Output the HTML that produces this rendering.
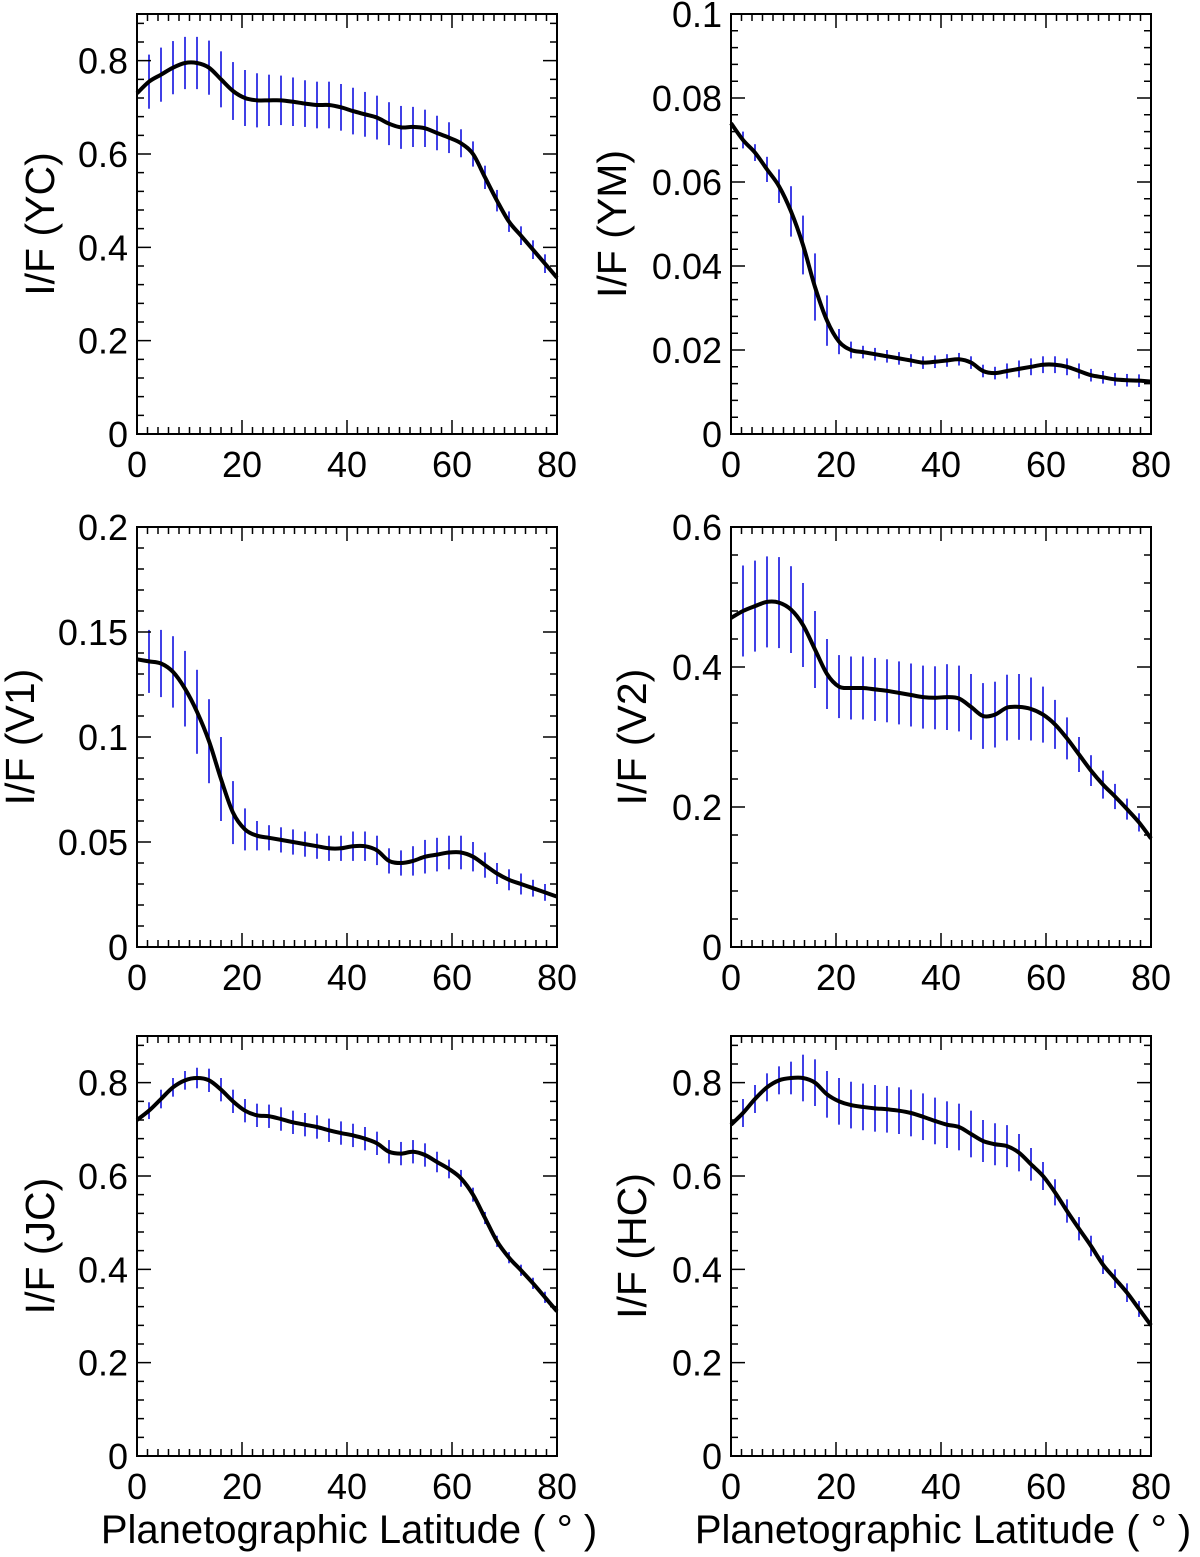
<!DOCTYPE html>
<html><head><meta charset="utf-8"><style>
body{margin:0;background:#fff}
svg{display:block;font-family:"Liberation Sans",sans-serif}
</style></head><body>
<svg id="fig" width="1200" height="1557" viewBox="0 0 1200 1557" xmlns="http://www.w3.org/2000/svg"></svg>
<script>
const NS="http://www.w3.org/2000/svg";
const nPts=36;
const lats=[];for(let i=0;i<nPts;i++)lats.push(i*80/35);
const ycVals=[0.73,0.755,0.77,0.785,0.795,0.795,0.785,0.76,0.735,0.72,0.715,0.715,0.715,0.712,0.708,0.705,0.705,0.70,0.692,0.685,0.678,0.665,0.657,0.658,0.655,0.645,0.635,0.623,0.60,0.55,0.50,0.455,0.425,0.395,0.365,0.335];
const ycErr=[0.06,0.058,0.058,0.057,0.056,0.056,0.058,0.06,0.062,0.06,0.058,0.055,0.053,0.052,0.05,0.05,0.05,0.05,0.05,0.048,0.047,0.046,0.046,0.043,0.04,0.037,0.033,0.03,0.027,0.025,0.023,0.022,0.02,0.02,0.02,0.02];
const ymVals=[0.074,0.070,0.067,0.063,0.059,0.053,0.045,0.035,0.027,0.022,0.020,0.0195,0.019,0.0185,0.018,0.0175,0.017,0.0172,0.0175,0.0178,0.017,0.015,0.0145,0.015,0.0155,0.016,0.0165,0.0165,0.016,0.015,0.014,0.0135,0.013,0.0128,0.0127,0.0125];
const ymErr=[0.002,0.002,0.002,0.003,0.004,0.006,0.007,0.008,0.006,0.003,0.002,0.0015,0.0015,0.0015,0.0015,0.0015,0.0015,0.0015,0.0015,0.0015,0.0015,0.0015,0.0015,0.0018,0.002,0.002,0.002,0.002,0.002,0.0018,0.0015,0.0015,0.0015,0.0015,0.0015,0.0015];
const v1Vals=[0.137,0.136,0.135,0.131,0.123,0.112,0.098,0.08,0.064,0.056,0.053,0.052,0.051,0.050,0.049,0.048,0.047,0.047,0.048,0.048,0.046,0.041,0.040,0.041,0.043,0.044,0.045,0.045,0.043,0.039,0.035,0.032,0.030,0.028,0.026,0.024];
const v1Err=[0.014,0.015,0.016,0.017,0.018,0.02,0.02,0.02,0.015,0.01,0.007,0.006,0.006,0.006,0.006,0.006,0.006,0.006,0.007,0.007,0.007,0.006,0.006,0.007,0.008,0.008,0.008,0.008,0.007,0.006,0.005,0.005,0.005,0.004,0.004,0.004];
const v2Vals=[0.47,0.48,0.487,0.493,0.492,0.482,0.46,0.425,0.39,0.372,0.37,0.37,0.368,0.366,0.363,0.36,0.357,0.356,0.357,0.355,0.343,0.33,0.332,0.342,0.343,0.34,0.332,0.318,0.298,0.275,0.252,0.232,0.215,0.197,0.178,0.155];
const v2Err=[0.06,0.065,0.065,0.065,0.065,0.062,0.06,0.055,0.05,0.045,0.045,0.045,0.045,0.045,0.045,0.045,0.045,0.045,0.047,0.047,0.047,0.047,0.047,0.047,0.047,0.045,0.04,0.035,0.03,0.025,0.022,0.02,0.018,0.015,0.013,0.01];
const jcVals=[0.72,0.74,0.765,0.79,0.805,0.81,0.805,0.785,0.76,0.74,0.73,0.728,0.722,0.715,0.71,0.705,0.698,0.692,0.687,0.68,0.67,0.652,0.648,0.652,0.645,0.63,0.615,0.595,0.56,0.51,0.46,0.425,0.398,0.37,0.34,0.31];
const jcErr=[0.015,0.018,0.02,0.02,0.02,0.022,0.025,0.025,0.025,0.025,0.025,0.025,0.025,0.025,0.025,0.025,0.025,0.025,0.025,0.025,0.025,0.025,0.025,0.025,0.025,0.022,0.02,0.018,0.015,0.013,0.012,0.012,0.012,0.012,0.012,0.012];
const hcVals=[0.71,0.735,0.765,0.79,0.805,0.81,0.81,0.80,0.775,0.76,0.752,0.748,0.745,0.743,0.74,0.735,0.727,0.718,0.71,0.705,0.69,0.675,0.668,0.664,0.65,0.625,0.60,0.565,0.525,0.487,0.45,0.41,0.38,0.35,0.315,0.28];
const hcErr=[0.03,0.03,0.03,0.03,0.03,0.035,0.05,0.05,0.05,0.05,0.05,0.05,0.05,0.05,0.05,0.05,0.05,0.05,0.05,0.05,0.05,0.045,0.045,0.045,0.04,0.035,0.03,0.028,0.025,0.025,0.022,0.02,0.02,0.02,0.017,0.015];
const xTickLabels=["0","20","40","60","80"];

const panels=[
 {name:"yc",title:"I/F (YC)",x0:137,y0:14,ymax:0.9,major:0.2,minor:0.04,labels:["0","0.2","0.4","0.6","0.8"],vals:ycVals,err:ycErr,tx:40},
 {name:"ym",title:"I/F (YM)",x0:731,y0:14,ymax:0.1,major:0.02,minor:0.004,labels:["0","0.02","0.04","0.06","0.08","0.1"],vals:ymVals,err:ymErr,tx:612},
 {name:"v1",title:"I/F (V1)",x0:137,y0:527,ymax:0.2,major:0.05,minor:0.01,labels:["0","0.05","0.1","0.15","0.2"],vals:v1Vals,err:v1Err,tx:20},
 {name:"v2",title:"I/F (V2)",x0:731,y0:527,ymax:0.6,major:0.2,minor:0.04,labels:["0","0.2","0.4","0.6"],vals:v2Vals,err:v2Err,tx:632},
 {name:"jc",title:"I/F (JC)",x0:137,y0:1036,ymax:0.9,major:0.2,minor:0.04,labels:["0","0.2","0.4","0.6","0.8"],vals:jcVals,err:jcErr,tx:40},
 {name:"hc",title:"I/F (HC)",x0:731,y0:1036,ymax:0.9,major:0.2,minor:0.04,labels:["0","0.2","0.4","0.6","0.8"],vals:hcVals,err:hcErr,tx:632}
];
const W=420,H=420;
const svg=document.getElementById('fig');
function mk(tag,attrs,parent){const e=document.createElementNS(NS,tag);for(const k in attrs)e.setAttribute(k,attrs[k]);(parent||svg).appendChild(e);return e;}
panels.forEach(p=>{
 const g=mk('g',{});
 
 
 const sx=v=>p.x0+v/80*W, sy=v=>p.y0+H-v/p.ymax*H;
 p.vals.forEach((v,i)=>{
  const b=mk('line',{x1:sx(lats[i]),x2:sx(lats[i]),y1:sy(v-p.err[i]),y2:sy(v+p.err[i]),stroke:'#1010e0','stroke-width':1.6},g);
  
  
 });
 const pts=p.vals.map((v,i)=>[sx(lats[i]),sy(v)]);
 let d='M'+pts[0][0]+','+pts[0][1];
 for(let i=0;i<pts.length-1;i++){
  const a=pts[Math.max(i-1,0)],b=pts[i],c=pts[i+1],e=pts[Math.min(i+2,pts.length-1)];
  d+=' C'+(b[0]+(c[0]-a[0])/6)+','+(b[1]+(c[1]-a[1])/6)+' '+(c[0]-(e[0]-b[0])/6)+','+(c[1]-(e[1]-b[1])/6)+' '+c[0]+','+c[1];
 }
 const cv=mk('path',{d:d,fill:'none',stroke:'#000','stroke-width':4,'stroke-linejoin':'round'},g);
 
 
 let t='';
 for(let v=0;v<=80.001;v+=2){const x=sx(v);const L=(Math.round(v)%20===0)?14:7;t+=`M${x},${p.y0+H}v${-L}M${x},${p.y0}v${L}`;}
 const nmin=Math.floor(p.ymax/p.minor+1e-6);const per=Math.round(p.major/p.minor);
 for(let k=0;k<=nmin;k++){const y=sy(k*p.minor);const L=(k%per===0)?14:7;t+=`M${p.x0},${y}h${L}M${p.x0+W},${y}h${-L}`;}
 mk('path',{d:t,stroke:'#000','stroke-width':1.5,fill:'none'},g);
 const fr=mk('rect',{x:p.x0,y:p.y0,width:W,height:H,fill:'none',stroke:'#000','stroke-width':2},g);
 
 
 p.labels.forEach((s,k)=>{
  const tx=mk('text',{x:p.x0-9,y:sy(k*p.major)+13,'text-anchor':'end','font-size':36},g);tx.textContent=s;
  
  
 });
 xTickLabels.forEach(s=>{
  const tx=mk('text',{x:sx(+s),y:p.y0+H+43,'text-anchor':'middle','font-size':36},g);tx.textContent=s;
  
  
 });
 const yt=mk('text',{x:0,y:0,'text-anchor':'middle','font-size':41,transform:`translate(${p.tx+14},${p.y0+H/2}) rotate(-90)`},g);
 yt.textContent=p.title;
 
 
});
[137,731].forEach(x0=>{
 const t=mk('text',{x:x0+212,y:1543,'text-anchor':'middle','font-size':40});
 t.textContent='Planetographic Latitude ( ° )';
 
 
});
</script>
</body></html>
